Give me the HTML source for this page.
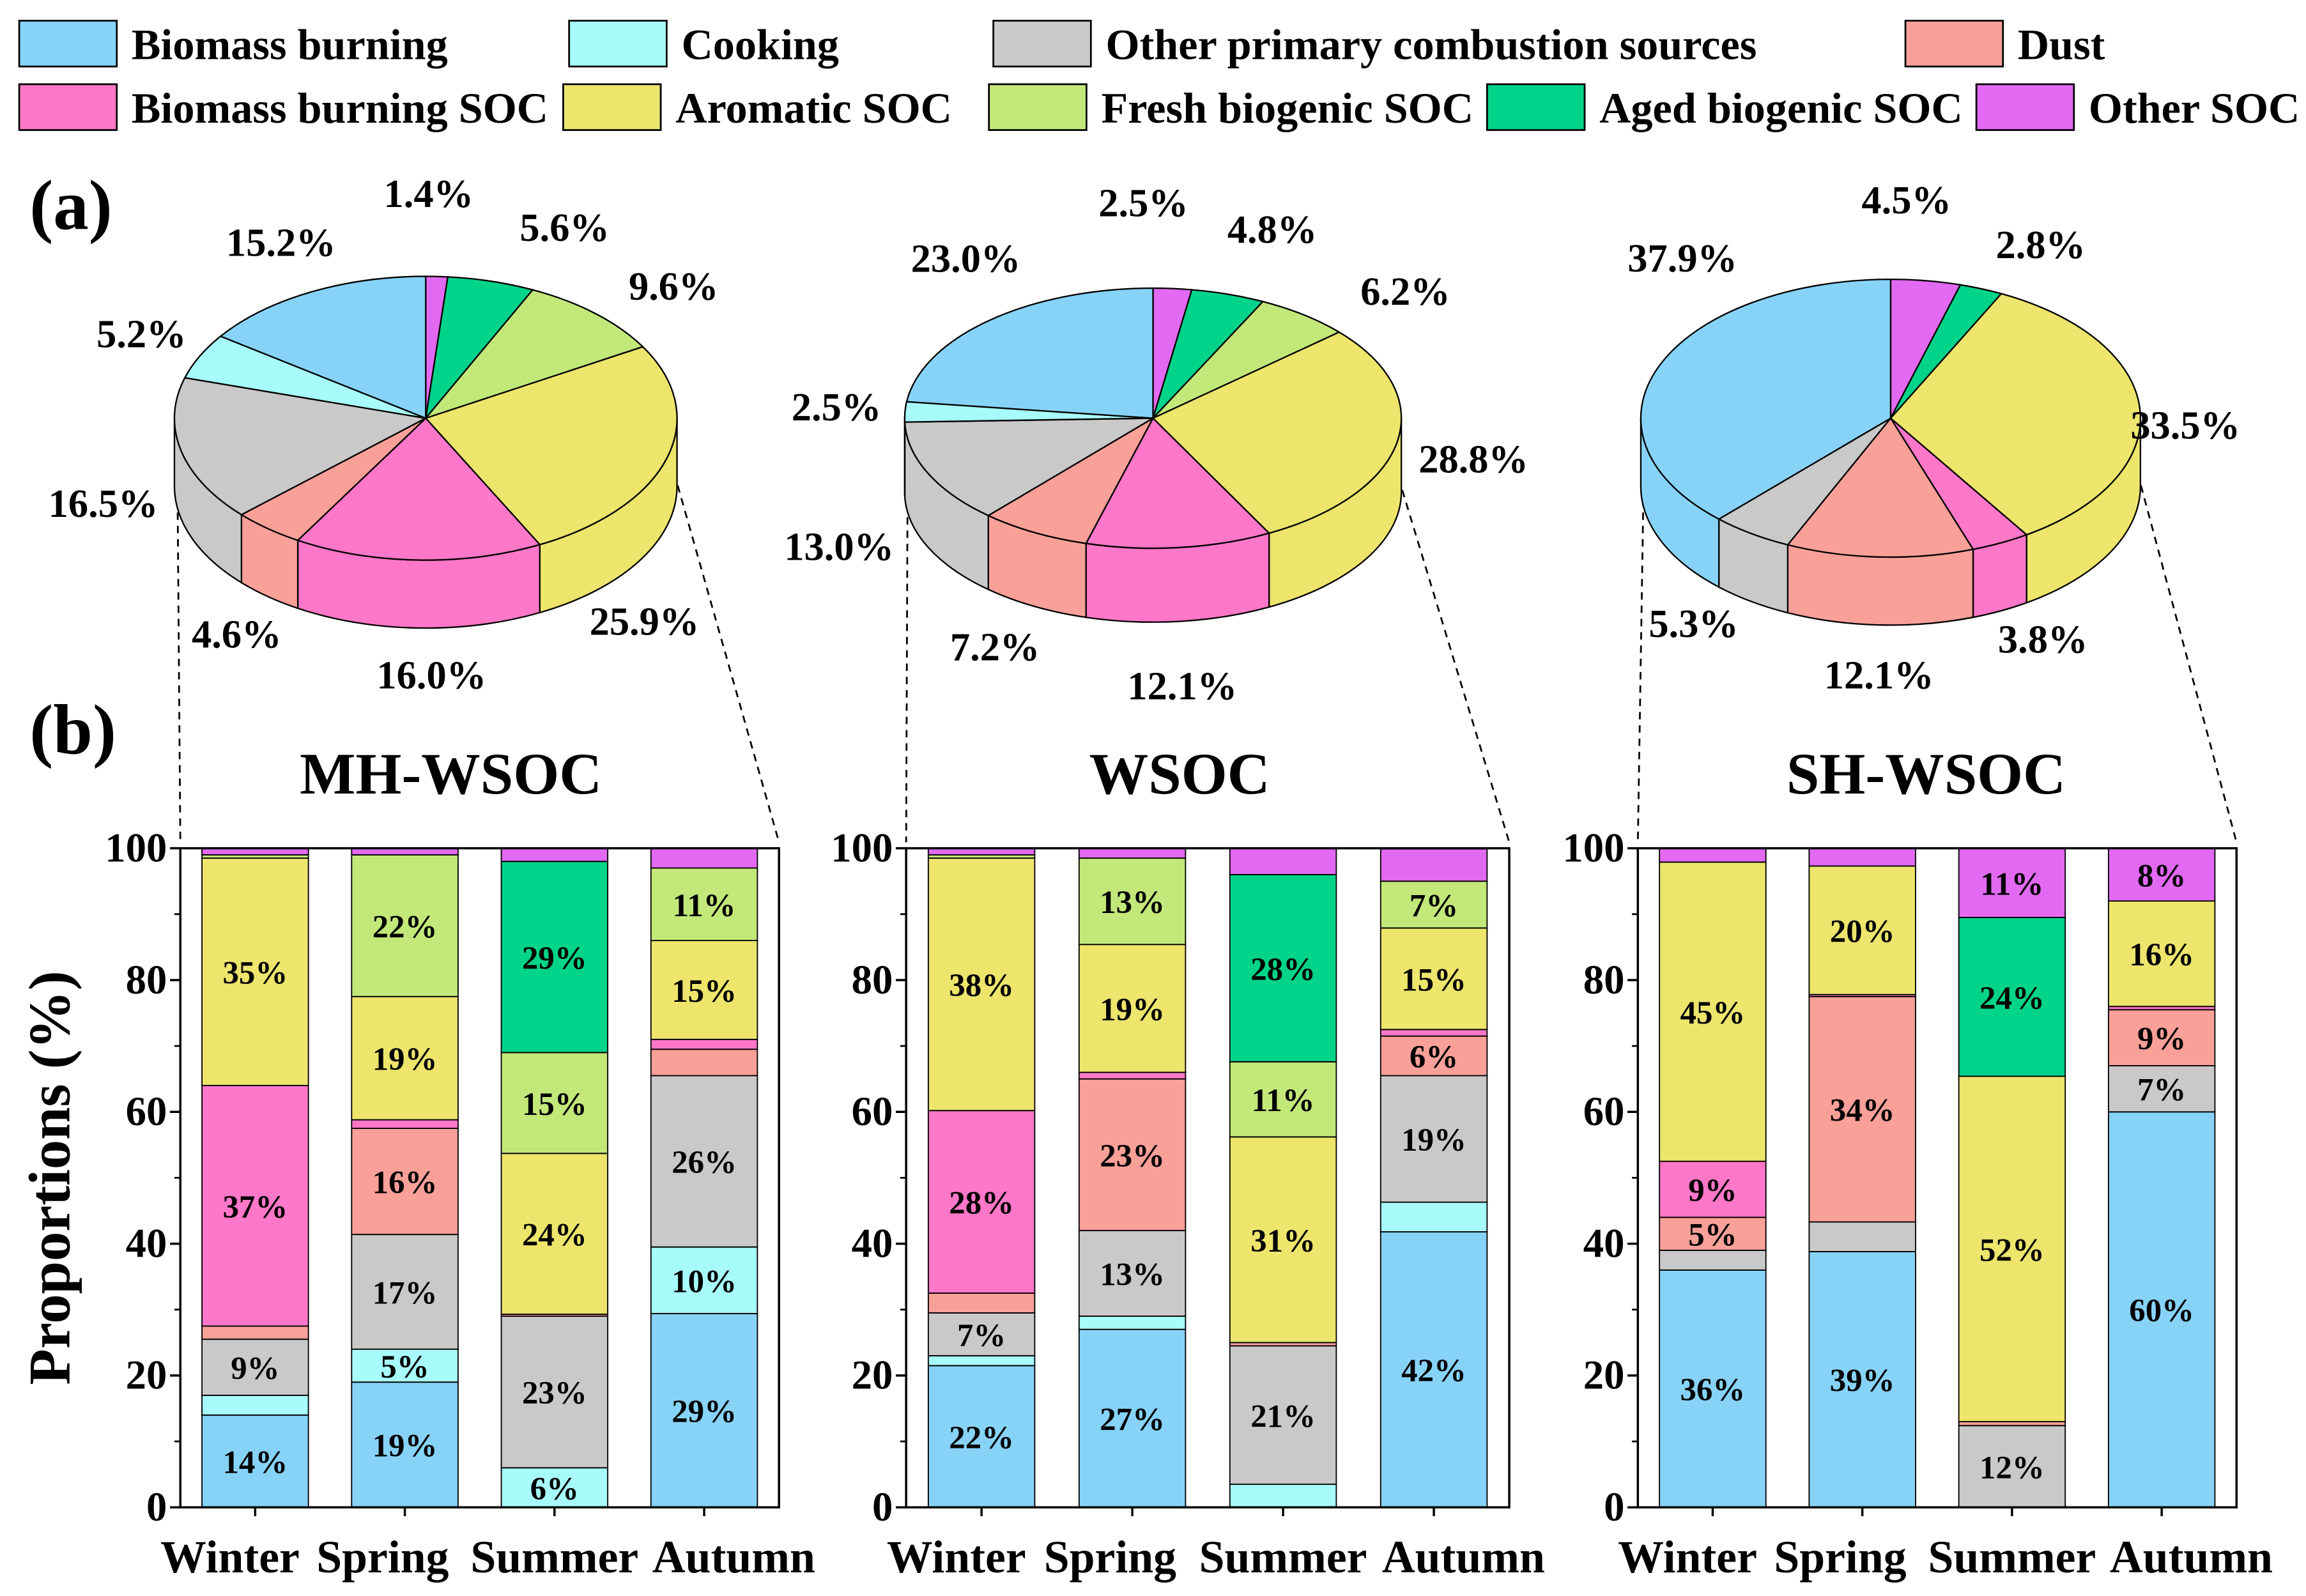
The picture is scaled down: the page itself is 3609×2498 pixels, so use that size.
<!DOCTYPE html>
<html><head><meta charset="utf-8"><style>
html,body{margin:0;padding:0;background:#fff}
svg{display:block}
text{font-family:"Liberation Serif",serif;font-weight:bold;fill:#000}
</style></head><body>
<svg id="chart" xmlns="http://www.w3.org/2000/svg" width="3609" height="2498" viewBox="0 0 1560 1080" preserveAspectRatio="none">
<g id="legend"></g>
<text x="20" y="155" font-size="48">(a)</text>
<text x="20" y="510" font-size="48">(b)</text>
<g id="pies"></g>
<g id="bars"></g>
<text transform="translate(47,797) rotate(-90)" text-anchor="middle" font-size="40">Proportions (%)</text>
</svg>
<script>
const NS="http://www.w3.org/2000/svg";
const sources=["Biomass burning","Cooking","Other primary combustion sources","Dust","Biomass burning SOC","Aromatic SOC","Fresh biogenic SOC","Aged biogenic SOC","Other SOC"];
const colors=["#87D3F8","#A8FBFB","#C9C9C9","#F9A099","#FF77C8","#EDE56C","#C3E87A","#00D38A","#E269F2"];
const seasons=["Winter","Spring","Summer","Autumn"];
const panelTitles=["MH-WSOC","WSOC","SH-WSOC"];
const yTicks=[0,20,40,60,80,100];
// pie values in order: Other SOC, Aged, Fresh, Aromatic, BBSOC, Dust, Other primary, Cooking, Biomass burning
const pieOrder=[8,7,6,5,4,3,2,1,0];
const pieMH=[1.4,5.6,9.6,25.9,16.0,4.6,16.5,5.2,15.2];
const pieW=[2.5,4.8,6.2,28.8,12.1,7.2,13.0,2.5,23.0];
const pieSH=[4.5,2.8,0,33.5,3.8,12.1,5.3,0,37.9];
// bar values per season, order = sources
const barMH=[[14,3,8.5,2,36.5,34.5,0.5,0,1],[19,5,17.4,16.1,1.3,18.7,21.5,0,1],[0,6,23,0.3,0,24.4,15.3,29,2],[29.4,10.1,26,4,1.5,15,11,0,3]];
const barW=[[21.5,1.5,6.5,3,27.7,38.3,0.5,0,1],[27,2,13,23,1,19.4,13.1,0,1.5],[0,3.5,21,0.5,0,31.2,11.4,28.4,4],[41.8,4.5,19.2,6,1,15.4,7.1,0,4.9]];
const barSH=[[36,0,3,5,8.5,45.4,0,0,2.1],[38.8,0,4.5,34.2,0.3,19.5,0,0,2.7],[0,0,12.4,0.6,0,52.4,0,24.1,10.5],[60,0,7,8.5,0.5,16,0,0,8]];
// label nudges (presentation only)
const pieLabelNudge=[
 [[-8,-9],[35,9],[15,16],[-69,50],[11,-17],[14,-13],[2,-22],[11,5],[6,8]],
 [[-24,-15],[13,-3],[35,18],[-3,-47],[-4,-1],[0,-12],[-10,-20],[9,-2],[21,-10]],
 [[-21,-9],[20,13],[0,0],[-25,12],[4,-24],[2,-14],[-8,-25],[0,0],[68,-57]]];
const seasonLabelShift=[-17,-15,0,20];

function el(tag,attrs,parent,txt){const e=document.createElementNS(NS,tag);for(const k in attrs)e.setAttribute(k,attrs[k]);if(txt!==undefined)e.textContent=txt;parent.appendChild(e);return e;}

// legend
const legend=document.getElementById('legend');
const legRows=[[[0,13],[1,385],[2,672],[3,1289]],[[4,13],[5,381],[6,669],[7,1006],[8,1337]]];
legRows.forEach((row,ri)=>{row.forEach(([si,x])=>{
  const y=ri?57:14;
  const g=el('g',{},legend);
  
  
  el('rect',{x:x,y:y,width:66,height:31,fill:colors[si],stroke:'#000','stroke-width':1.2},g);
  el('text',{x:x+76,y:y+26,'font-size':29.5},g,sources[si]);
});});

// pies
const piesG=document.getElementById('pies');
const pieData=[pieMH,pieW,pieSH];
const pieGeo=[{cx:288,cy:283,rx:170,ry:96,d:46,lx:122,rx2:527},{cx:780,cy:283,rx:168,ry:88,d:50,lx:613,rx2:1021},{cx:1279,cy:283,rx:169,ry:94,d:46,lx:1108,rx2:1513}];
function pt(g,a,dy){const r=a*Math.PI/180;return [g.cx+g.rx*Math.sin(r),g.cy-g.ry*Math.cos(r)+(dy||0)];}
pieData.forEach((vals,pi)=>{
  const g=pieGeo[pi];
  const pg=el('g',{},piesG);
  
  
  const total=vals.reduce((a,b)=>a+b,0);
  let acc=0;const slices=[];
  vals.forEach((v,i)=>{const a0=acc/total*360;acc+=v;const a1=acc/total*360;slices.push([a0,a1,i,v]);});
  const lp=pt(g,270,g.d*0.8), rp=pt(g,90,g.d*0.8);
  el('line',{x1:lp[0]+2,y1:lp[1],x2:g.lx,y2:570,stroke:'#000','stroke-width':1.2,'stroke-dasharray':'5,4'},pg);
  el('line',{x1:rp[0]-2,y1:rp[1],x2:g.rx2,y2:570,stroke:'#000','stroke-width':1.2,'stroke-dasharray':'5,4'},pg);
  slices.forEach(([a0,a1,i,v])=>{
    if(v<=0)return;
    const s=Math.max(a0,90),e=Math.min(a1,270);
    if(e<=s)return;
    const p0=pt(g,s),p1=pt(g,e),q1=pt(g,e,g.d),q0=pt(g,s,g.d);
    const p=el('path',{d:`M${p0} A${g.rx} ${g.ry} 0 0 1 ${p1} L${q1} A${g.rx} ${g.ry} 0 0 0 ${q0} Z`,fill:colors[pieOrder[i]],stroke:'#000','stroke-width':1},pg);
    
    
  });
  slices.forEach(([a0,a1,i,v])=>{
    if(v<=0)return;
    const p0=pt(g,a0),p1=pt(g,a1);const large=(a1-a0)>180?1:0;
    const p=el('path',{d:`M${g.cx},${g.cy} L${p0} A${g.rx} ${g.ry} 0 ${large} 1 ${p1} Z`,fill:colors[pieOrder[i]],stroke:'#000','stroke-width':1},pg);
    
    
  });
  slices.forEach(([a0,a1,i,v])=>{
    if(v<=0)return;
    const m=(a0+a1)/2*Math.PI/180;
    const c=Math.cos(m);
    const nd=pieLabelNudge[pi][i];
    const x=g.cx+g.rx*1.33*Math.sin(m)+nd[0];
    const y=g.cy-g.ry*1.5*c+(c<0?g.d:0)+10+nd[1];
    const t=el('text',{x:x,y:y,'font-size':27,'text-anchor':'middle'},pg,v.toFixed(1)+'%');
    
    
  });
});

// bars
const barsG=document.getElementById('bars');
const barData=[barMH,barW,barSH];
const titleX=[305,798,1303];
const Y0=1020,YH=446;
function ys(v){return Y0-v/100*YH;}
barData.forEach((data,pi)=>{
  const g=pieGeo[pi];
  const x0=g.lx,x1=g.rx2;
  const bg=el('g',{},barsG);
  
  
  const tt=el('text',{x:titleX[pi],y:537,'font-size':40,'text-anchor':'middle'},bg,panelTitles[pi]);
  
  
  const step=(x1-x0)/seasons.length,bw=72;
  function xs(i){return x0+step*(i+0.5);}
  data.forEach((vals,si)=>{
    let acc=0;
    vals.forEach((v,k)=>{
      if(v<=0){return;}
      const yT=ys(acc+v),yB=ys(acc);
      const r=el('rect',{x:xs(si)-bw/2,y:yT,width:bw,height:yB-yT,fill:colors[k],stroke:'#000','stroke-width':0.8},bg);
      
      
      if(v>=5){
        const t=el('text',{x:xs(si),y:(yT+yB)/2+8,'font-size':22,'text-anchor':'middle'},bg,Math.round(v)+'%');
        
        
      }
      acc+=v;
    });
    const xl=el('text',{x:xs(si)+seasonLabelShift[si],y:1064,'font-size':31,'text-anchor':'middle'},bg,seasons[si]);
    
    
    el('line',{x1:xs(si),y1:Y0,x2:xs(si),y2:Y0+6,stroke:'#000','stroke-width':1.5},bg);
  });
  const fr=el('rect',{x:x0,y:ys(100),width:x1-x0,height:YH,fill:'none',stroke:'#000','stroke-width':1.5},bg);
  
  
  yTicks.forEach(t=>{
    el('line',{x1:x0-7,y1:ys(t),x2:x0,y2:ys(t),stroke:'#000','stroke-width':1.5},bg);
    const tl=el('text',{x:x0-9,y:ys(t)+9,'font-size':28,'text-anchor':'end'},bg,String(t));
    
    
  });
  for(let t=10;t<100;t+=20) el('line',{x1:x0-4,y1:ys(t),x2:x0,y2:ys(t),stroke:'#000','stroke-width':1.2},bg);
});
</script>
</body></html>
